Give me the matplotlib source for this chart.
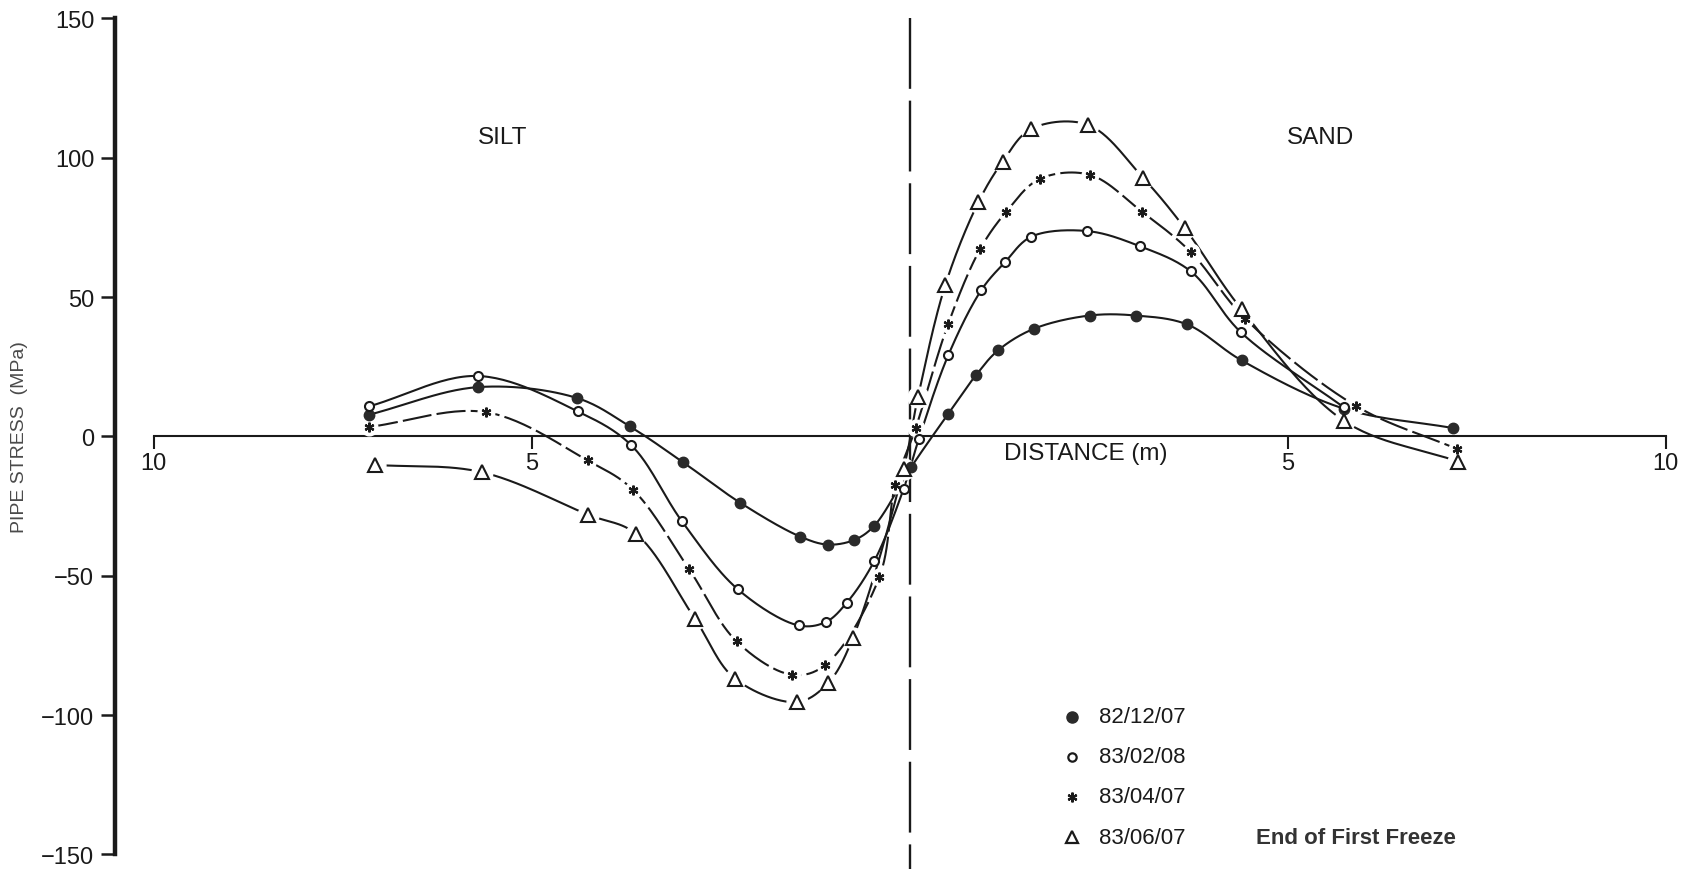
import numpy as np
import matplotlib.pyplot as plt

plt.rcParams['font.family'] = ['Liberation Sans', 'DejaVu Sans']

# pipe stress readings along the pipe (m from the silt/sand boundary, MPa)
dates = ["82/12/07", "83/02/08", "83/04/07", "83/06/07"]
note = "End of First Freeze"

x_dec = [-7.15, -5.71, -4.40, -3.70, -3.00, -2.24, -1.45, -1.08, -0.73, -0.47,
         0.02, 0.51, 0.88, 1.17, 1.64, 2.38, 2.99, 3.67, 4.39, 5.74, 7.19]
y_dec = [7.8, 17.7, 13.8, 3.6, -9.2, -23.8, -35.9, -38.8, -37.1, -32.1,
         -11.0, 8.1, 22.1, 30.9, 38.6, 43.4, 43.4, 40.2, 27.3, 10.0, 3.0]

x_feb = [-7.15, -5.71, -4.39, -3.68, -3.01, -2.27, -1.47, -1.11, -0.83, -0.47,
         -0.08, 0.12, 0.51, 0.95, 1.26, 1.61, 2.35, 3.05, 3.72, 4.38, 5.74]
y_feb = [10.8, 21.7, 9.0, -3.2, -30.5, -54.9, -67.8, -66.6, -59.6, -44.8,
         -18.8, -1.0, 29.1, 52.6, 62.5, 71.7, 73.7, 68.2, 59.2, 37.4, 10.5]

x_apr = [-7.15, -5.60, -4.26, -3.66, -2.92, -2.29, -1.56, -1.12, -0.40, -0.19,
         0.08, 0.51, 0.93, 1.28, 1.72, 2.38, 3.07, 3.72, 4.44, 5.90, 7.24]
y_apr = [3.4, 8.7, -8.6, -19.1, -47.5, -73.5, -85.5, -82.1, -50.4, -17.3,
         3.0, 40.4, 67.1, 80.7, 92.4, 93.9, 80.7, 66.1, 42.2, 11.0, -4.5]

x_jun = [-7.07, -5.66, -4.25, -3.62, -2.84, -2.31, -1.49, -1.08, -0.75, -0.08,
         0.11, 0.47, 0.91, 1.23, 1.61, 2.36, 3.09, 3.64, 4.39, 5.75, 7.25]
y_jun = [-10.2, -12.8, -28.1, -34.9, -65.4, -86.9, -95.3, -88.5, -72.3, -11.6,
         14.1, 54.2, 84.1, 98.6, 110.4, 111.8, 92.7, 74.7, 45.6, 5.5, -9.0]

xticks = [-10, -5, 5, 10]
xtick_labels = ["10", "5", "5", "10"]
yticks = [-150, -100, -50, 0, 50, 100, 150]


def smooth(xs, ys, n=30):
    # centripetal catmull-rom through the points (in rough pixel space)
    sx, sy = 75.6, 2.788
    P = np.column_stack([np.asarray(xs) * sx, np.asarray(ys) * sy])
    P = np.vstack([2 * P[0] - P[1], P, 2 * P[-1] - P[-2]])
    out = []
    for i in range(1, len(P) - 2):
        p0, p1, p2, p3 = P[i - 1], P[i], P[i + 1], P[i + 2]
        t0 = 0.0
        t1 = t0 + np.linalg.norm(p1 - p0) ** 0.5
        t2 = t1 + np.linalg.norm(p2 - p1) ** 0.5
        t3 = t2 + np.linalg.norm(p3 - p2) ** 0.5
        t = np.linspace(t1, t2, n)[:, None]
        a1 = (t1 - t) / (t1 - t0) * p0 + (t - t0) / (t1 - t0) * p1
        a2 = (t2 - t) / (t2 - t1) * p1 + (t - t1) / (t2 - t1) * p2
        a3 = (t3 - t) / (t3 - t2) * p2 + (t - t2) / (t3 - t2) * p3
        b1 = (t2 - t) / (t2 - t0) * a1 + (t - t0) / (t2 - t0) * a2
        b2 = (t3 - t) / (t3 - t1) * a2 + (t - t1) / (t3 - t1) * a3
        c = (t2 - t) / (t2 - t1) * b1 + (t - t1) / (t2 - t1) * b2
        out.append(c)
    out = np.vstack(out)
    return out[:, 0] / sx, out[:, 1] / sy


ink = '#1a1a1a'
fig = plt.figure(figsize=(16.86, 8.70), dpi=100)
ax = fig.add_axes([0.0682, 0.01667, 0.931, 0.961])
ax.set_xlim(-10.51, 10.25)
ax.set_ylim(-150, 150)

# boundary between silt and sand
ax.plot([0, 0], [150, -157], color=ink, lw=1.7, dashes=(30, 5), clip_on=False, zorder=1)

series = [
    (x_dec, y_dec, dict(marker='o', ms=7.5, mfc='#2a2a2a', mec='#2a2a2a', mew=1), '-', False),
    (x_feb, y_feb, dict(marker='o', ms=6.5, mfc='white', mec=ink, mew=1.5), '-', False),
    (x_apr, y_apr, dict(marker=(6, 2, 0), ms=7, mfc=ink, mec=ink, mew=1.6), (0, (14, 2.5)), True),
    (x_jun, y_jun, dict(marker='^', ms=10, mfc='white', mec=ink, mew=1.5), '-', True),
]

for xs, ys, mk, ls, gap in series:
    cx, cy = smooth(xs, ys)
    ax.plot(cx, cy, color=ink, lw=1.5, linestyle=ls, zorder=2)
    if gap:
        ax.plot(xs, ys, linestyle='none', marker='o', ms=mk['ms'] + 5,
                mfc='white', mec='white', zorder=3)
    ax.plot(xs, ys, linestyle='none', zorder=4, **mk)

# spines and ticks
for s in ['top', 'right']:
    ax.spines[s].set_visible(False)
ax.spines['left'].set_linewidth(3.2)
ax.spines['left'].set_color(ink)
ax.spines['bottom'].set_position(('data', 0))
ax.spines['bottom'].set_bounds(-10, 10)
ax.spines['bottom'].set_linewidth(1.5)
ax.spines['bottom'].set_color(ink)

ax.set_yticks(yticks)
ax.set_yticklabels([f"{v}".replace('-', '\u2212') for v in yticks])
ax.tick_params(axis='y', direction='out', length=10, width=1.8, pad=5,
               labelsize=17, colors=ink)
ax.set_xticks(xticks)
ax.set_xticklabels(xtick_labels)
ax.tick_params(axis='x', direction='out', length=9, width=1.5, pad=2,
               labelsize=17, colors=ink)

ylab = ax.text(-11.77, 0, "PIPE STRESS  (MPa)", rotation=90, ha='center', va='center',
               fontsize=14, color='#4a4a4a')
ylab.set_clip_on(False)

ax.text(2.33, -5.8, "DISTANCE (m)", ha='center', va='center', fontsize=17.5, color=ink)
ax.text(-5.39, 107.6, "SILT", ha='center', va='center', fontsize=17.5, color=ink)
ax.text(5.43, 107.6, "SAND", ha='center', va='center', fontsize=17.5, color=ink)

# hand-drawn style legend
leg_y = [-100.6, -114.9, -129.2, -143.8]
leg_mk = [
    dict(marker='o', ms=8, mfc='#2a2a2a', mec='#2a2a2a'),
    dict(marker='o', ms=6, mfc='white', mec=ink, mew=1.6),
    dict(marker=(6, 2, 0), ms=7, mfc=ink, mec=ink, mew=1.6),
    dict(marker='^', ms=8, mfc='white', mec=ink, mew=1.6),
]
for yy, lab, mk in zip(leg_y, dates, leg_mk):
    ax.plot([2.15], [yy], linestyle='none', **mk)
    ax.text(2.50, yy, lab, ha='left', va='center', fontsize=16, color=ink)
ax.text(4.58, leg_y[-1], note, ha='left', va='center', fontsize=16,
        fontweight='bold', color='#333333')

fig.savefig('out.png', dpi=100)
